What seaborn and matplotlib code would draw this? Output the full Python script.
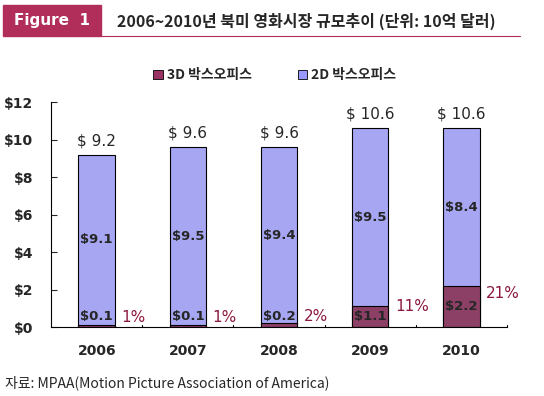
import numpy as np
import pandas as pd
import seaborn as sns
import matplotlib.pyplot as plt
from matplotlib.patches import Rectangle, Patch
from matplotlib.lines import Line2D

years = ["2006", "2007", "2008", "2009", "2010"]
box3d = [0.1, 0.1, 0.2, 1.1, 2.2]
box2d = [9.1, 9.5, 9.4, 9.5, 8.4]
totals = [9.2, 9.6, 9.6, 10.6, 10.6]
share3d = ["1%", "1%", "2%", "11%", "21%"]
yticks = [0, 2, 4, 6, 8, 10, 12]

sns.set_style("white")
plt.rcParams['font.family'] = ['DejaVu Sans', 'Noto Sans CJK KR']
kr = ['Noto Sans CJK KR', 'DejaVu Sans']

c3d = "#993366"
c2d = "#9999FF"
accent = "#B22E5A"

df = pd.DataFrame({"year": years, "3D": box3d, "2D": box2d})
df["total"] = df["3D"] + df["2D"]

fig = plt.figure(figsize=(5.44, 3.96), dpi=100)
ax = fig.add_axes([0.094, 0.174, 0.838, 0.568])

sns.barplot(data=df, x="year", y="total", color=c2d, width=0.4,
            edgecolor="black", linewidth=0.8, ax=ax)
sns.barplot(data=df, x="year", y="3D", color=c3d, width=0.4,
            edgecolor="black", linewidth=0.8, ax=ax)

ax.set_xlim(-0.5, 4.5)
ax.set_ylim(0, 12)
ax.set_yticks(yticks)
ax.set_yticklabels([f"${t}" for t in yticks], fontweight="bold", fontsize=10)
ax.set_xticks(range(len(years)))
ax.set_xticklabels(years, fontweight="bold", fontsize=10)
ax.set_xlabel("")
ax.set_ylabel("")
ax.tick_params(axis="x", length=0, pad=12)
ax.tick_params(axis="y", direction="in", length=4, width=0.8, left=True, pad=13)
for x in np.arange(0.5, 4.6, 1.0):
    ax.plot([x, x], [0, 0.12], color="black", lw=0.8, clip_on=False)
for s in ["top", "right"]:
    ax.spines[s].set_visible(False)
for s in ["left", "bottom"]:
    ax.spines[s].set_color("black")
    ax.spines[s].set_linewidth(0.8)

for i in range(len(years)):
    ax.text(i, totals[i] + 0.75, f"$ {totals[i]}", ha="center", va="center", fontsize=11)
    ax.text(i, box3d[i] + box2d[i] / 2, f"${box2d[i]}", ha="center", va="center",
            fontsize=9.5, fontweight="bold")
    ax.text(i, max(box3d[i] / 2, 0.55), f"${box3d[i]}", ha="center", va="center",
            fontsize=9.5, fontweight="bold")
    ax.text(i + 0.27, 0.45 + 0.6 * box3d[i], share3d[i], ha="left", va="center",
            fontsize=11, color="#8B1A3D")

handles = [Patch(facecolor=c3d, edgecolor="black", linewidth=0.6),
           Patch(facecolor=c2d, edgecolor="black", linewidth=0.6)]
fig.legend(handles, ["3D 박스오피스", "2D 박스오피스"], loc="center",
           bbox_to_anchor=(0.505, 0.81), ncol=2, frameon=False,
           prop={"family": kr, "weight": "bold", "size": 10},
           handlelength=0.7, handleheight=0.7, handletextpad=0.3, columnspacing=3.3)

# header
fig.patches.append(Rectangle((3 / 544, 1 - 36 / 396), 98 / 544, 31 / 396,
                             transform=fig.transFigure, color=accent))
fig.lines.append(Line2D([101 / 544, 520 / 544], [1 - 36 / 396, 1 - 36 / 396],
                        transform=fig.transFigure, color=accent, lw=0.8))
fig.text(52 / 544, 1 - 21 / 396, "Figure  1", color="white", ha="center", va="center",
         fontsize=11, fontweight="bold")
fig.text(117 / 544, 1 - 21 / 396, "2006~2010년 북미 영화시장 규모추이 (단위: 10억 달러)",
         ha="left", va="center", fontsize=11.5, fontweight="bold", family=kr)
fig.text(5 / 544, 1 - 383 / 396, "자료: MPAA(Motion Picture Association of America)",
         ha="left", va="center", fontsize=10, family=kr)

fig.savefig("out.png", dpi=100)
